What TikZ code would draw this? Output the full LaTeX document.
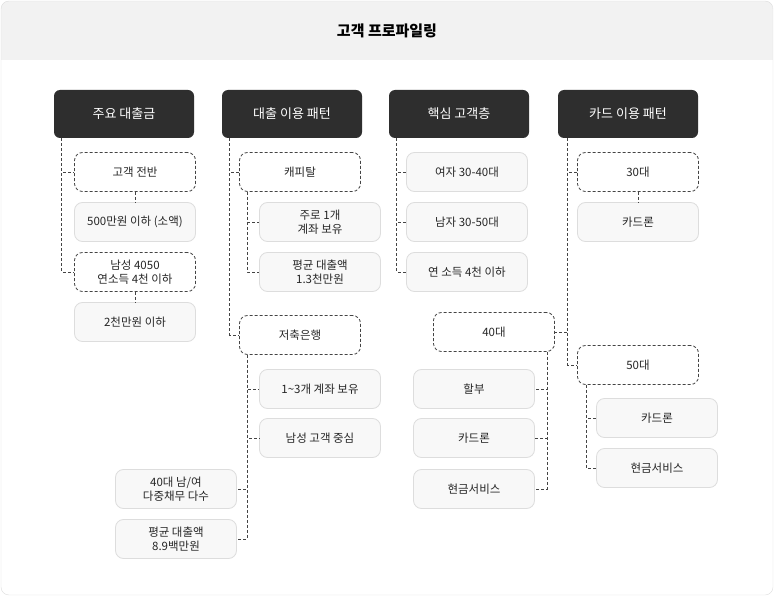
\documentclass[tikz,border=0pt]{standalone}
\usepackage{fontspec}
\setmainfont{Noto Sans CJK KR}
\definecolor{hdr}{HTML}{2E2E2E}
\definecolor{sbd}{HTML}{DDDDDD}
\definecolor{sfl}{HTML}{F8F8F8}
\definecolor{dk}{HTML}{444444}
\begin{document}
\begin{tikzpicture}[x=1pt,y=-1pt,
  headbox/.style={rounded corners=6pt,fill=hdr,text=white,minimum width=140pt,minimum height=48pt,font=\fontsize{13}{15}\selectfont,inner sep=0pt},
  solidbox/.style={rounded corners=8pt,fill=sfl,draw=sbd,line width=0.8pt,minimum width=121pt,minimum height=39pt,align=center,font=\fontsize{11.5}{14}\selectfont,inner sep=0pt,text=black!85},
  dashbox/.style={solidbox,fill=white,draw=dk,dash pattern=on 3pt off 2pt},
  conn/.style={draw=dk,line width=0.7pt,dash pattern=on 3pt off 2pt}]
\useasboundingbox (0,0) rectangle (774,596);
\fill[white,rounded corners=8pt] (1,1) rectangle (773,595);
\begin{scope}
\clip[rounded corners=8pt] (1,1) rectangle (773,595);
\fill[black!5] (1,1) rectangle (773,60);
\end{scope}
\draw[sbd,rounded corners=8pt] (1,1) rectangle (773,595);
\node[font=\fontsize{15}{18}\selectfont\bfseries] (title) at (387,31) {고객 프로파일링};
% headers
\node[headbox] (h1) at (124,114) {주요 대출금};
\node[headbox] (h2) at (292,114) {대출 이용 패턴};
\node[headbox] (h3) at (459,114) {핵심 고객층};
\node[headbox] (h4) at (628,114) {카드 이용 패턴};
% col1
\node[dashbox] (c11) at (135,172) {고객 전반};
\node[solidbox] (c11a) at (135,222) {500만원 이하 (소액)};
\node[dashbox] (c12) at (135,272) {남성 4050\\연소득 4천 이하};
\node[solidbox] (c12a) at (135,322) {2천만원 이하};
\draw[conn] (h1.south west) ++(8,0) |- (c11.west);
\draw[conn] (h1.south west) ++(8,0) |- (c12.west);
\draw[conn] (c11.south) -- (c11a.north);
\draw[conn] (c12.south) -- (c12a.north);
% col2
\node[dashbox] (c21) at (300,172) {캐피탈};
\node[solidbox] (d1) at (320,222) {주로 1개\\계좌 보유};
\node[solidbox] (d2) at (320,272) {평균 대출액\\1.3천만원};
\node[dashbox] (c22) at (300,335) {저축은행};
\node[solidbox] (e1) at (320,389) {1\textasciitilde3개 계좌 보유};
\node[solidbox] (e2) at (320,438) {남성 고객 중심};
\node[solidbox] (e3) at (176,489) {40대 남/여\\다중채무 다수};
\node[solidbox] (e4) at (176,539) {평균 대출액\\8.9백만원};
\draw[conn] (h2.south west) ++(8,0) |- (c21.west);
\draw[conn] (h2.south west) ++(8,0) |- (c22.west);
\draw[conn] (c21.south west) ++(8,0) |- (d1.west);
\draw[conn] (c21.south west) ++(8,0) |- (d2.west);
\draw[conn] (c22.south west) ++(8,0) |- (e1.west);
\draw[conn] (c22.south west) ++(8,0) |- (e2.west);
\draw[conn] (c22.south west) ++(8,0) |- (e3.east);
\draw[conn] (c22.south west) ++(8,0) |- (e4.east);
% col3
\node[solidbox] (k1) at (467,172) {여자 30-40대};
\node[solidbox] (k2) at (467,222) {남자 30-50대};
\node[solidbox] (k3) at (467,272) {연 소득 4천 이하};
\draw[conn] (h3.south west) ++(8,0) |- (k1.west);
\draw[conn] (h3.south west) ++(8,0) |- (k2.west);
\draw[conn] (h3.south west) ++(8,0) |- (k3.west);
% col4
\node[dashbox] (c41) at (638,172) {30대};
\node[solidbox] (c41a) at (638,222) {카드론};
\node[dashbox] (m40) at (494,332) {40대};
\node[solidbox] (f1) at (474,389) {할부};
\node[solidbox] (f2) at (474,438) {카드론};
\node[solidbox] (f3) at (474,489) {현금서비스};
\node[dashbox] (c42) at (638,365) {50대};
\node[solidbox] (g1) at (657,418) {카드론};
\node[solidbox] (g2) at (657,468) {현금서비스};
\draw[conn] (h4.south west) ++(10,0) |- (c41.west);
\draw[conn] (h4.south west) ++(10,0) |- (c42.west);
\draw[conn] (h4.south west) ++(10,0) |- (m40.east);
\draw[conn] (c41.south) -- (c41a.north);
\draw[conn] (m40.south east) ++(-8,0) |- (f1.east);
\draw[conn] (m40.south east) ++(-8,0) |- (f2.east);
\draw[conn] (m40.south east) ++(-8,0) |- (f3.east);
\draw[conn] (c42.south west) ++(9,0) |- (g1.west);
\draw[conn] (c42.south west) ++(9,0) |- (g2.west);
\end{tikzpicture}
\end{document}
